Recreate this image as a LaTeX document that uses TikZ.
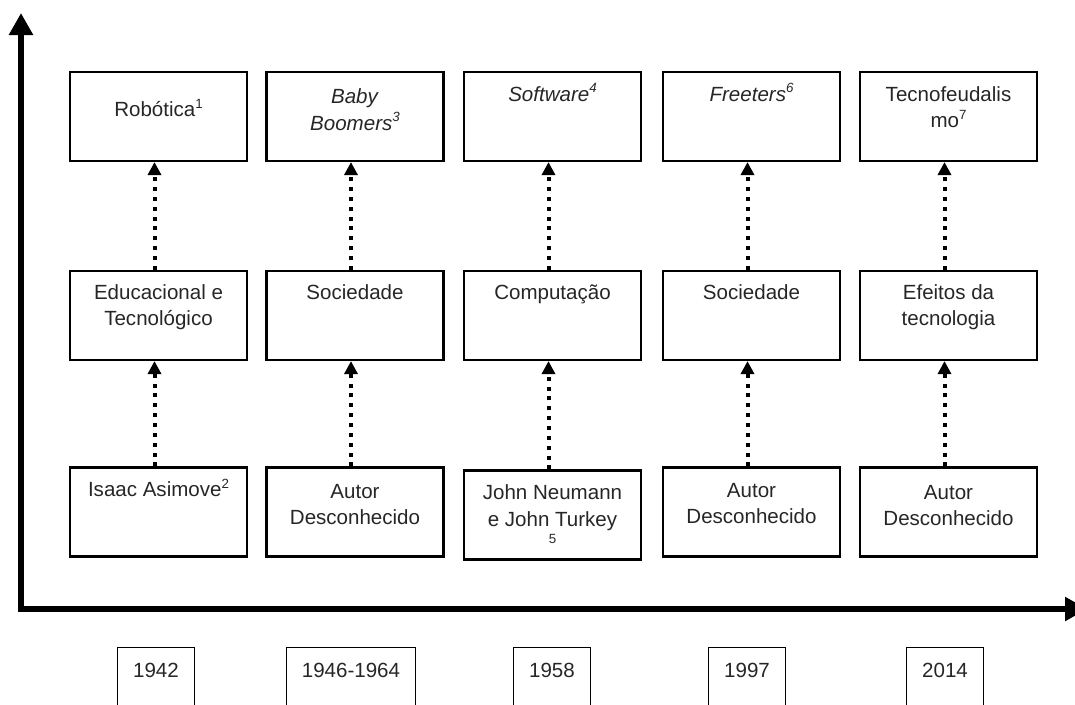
\documentclass[tikz,border=0pt]{standalone}
\usepackage{fontspec}
\setmainfont{Liberation Sans}
\usetikzlibrary{arrows.meta,calc}
% small raised footnote marks
\newcommand\supnum[1]{\raisebox{0.42em}{\fontsize{10}{10}\selectfont #1}}

\begin{document}
\begin{tikzpicture}[x=0.75pt,y=-0.75pt,
  box/.style={draw=black, line width=1.6pt, minimum width=132.75pt,
    minimum height=66.75pt, inner sep=0pt},
  boxtext/.style={anchor=north, inner sep=0pt, align=center, text=black!85,
    font=\fontsize{15.4}{20}\selectfont},
  yearbox/.style={draw=black, line width=0.9pt, anchor=north, inner sep=0pt,
    minimum width=57.75pt, text height=22.5pt, text depth=45pt, text=black!85,
    font=\fontsize{15.4}{20}\selectfont},
  link/.style={line width=3pt, dash pattern=on 3pt off 4.4pt,
    -{Triangle[length=9.75pt,width=9.75pt]}},
  axis/.style={line width=4.9pt, line join=miter,
    {Triangle[length=16.5pt,width=17.25pt]}-{Triangle[length=16.5pt,width=17.25pt]}}
]
\path[use as bounding box] (0,0) rectangle (1075,704);
\clip (0,0) rectangle (1075,704);

% axes
\coordinate (ytip) at (21,13);
\coordinate (origin) at (21,609);
\coordinate (xtip) at (1087,609);
\draw[axis] (ytip) -- (origin) -- (xtip);

% top row: concepts
\node[box] (t1) at (158.5,116.5) {};
\node[box] (t2) at (355,116.5) {};
\node[box] (t3) at (552.5,116.5) {};
\node[box] (t4) at (751.5,116.5) {};
\node[box] (t5) at (948.5,116.5) {};
\node[boxtext] (t1x) at (158.5,97.8) {\strut Robótica\supnum{1}};
\node[boxtext] (t2x) at (355,84.8) {\strut\textit{Baby}\\\textit{Boomers}\supnum{\textit{3}}};
\node[boxtext] (t3x) at (552.5,82.3) {\strut\textit{Software}\supnum{\textit{4}}};
\node[boxtext] (t4x) at (751.5,82.3) {\strut\textit{Freeters}\supnum{\textit{6}}};
\node[boxtext] (t5x) at (948.5,82.3) {\strut Tecnofeudalis\\mo\supnum{7}};

% middle row: areas
\node[box] (m1) at (158.5,315.5) {};
\node[box] (m2) at (355,315.5) {};
\node[box] (m3) at (552.5,315.5) {};
\node[box] (m4) at (751.5,315.5) {};
\node[box] (m5) at (948.5,315.5) {};
\node[boxtext] (m1x) at (158.5,280.3) {\strut Educacional e\\Tecnológico};
\node[boxtext] (m2x) at (355,280.3) {\strut Sociedade};
\node[boxtext] (m3x) at (552.5,280.3) {\strut Computação};
\node[boxtext] (m4x) at (751.5,280.3) {\strut Sociedade};
\node[boxtext] (m5x) at (948.5,280.3) {\strut Efeitos da\\tecnologia};

% bottom row: authors
\node[box] (b1) at (158.5,512) {};
\node[box] (b2) at (355,512) {};
\node[box] (b3) at (552.5,515) {};
\node[box] (b4) at (751.5,512) {};
\node[box] (b5) at (948.5,512) {};
\node[boxtext] (b1x) at (158.5,477.8) {\strut Isaac Asimove\supnum{2}};
\node[boxtext] (b2x) at (355,479.3) {\strut Autor\\Desconhecido};
\node[boxtext] (b3x) at (552.5,480.8) {\strut John Neumann\\e John Turkey\\[-7pt]{\fontsize{10}{10}\selectfont 5}};
\node[boxtext] (b4x) at (751.5,478.3) {\strut Autor\\Desconhecido};
\node[boxtext] (b5x) at (948.5,480.3) {\strut Autor\\Desconhecido};

% dotted links
\foreach \i in {1,...,5}{
  \draw[link] ([xshift=-3pt]b\i.north) -- ([xshift=-3pt]m\i.south);
  \draw[link] ([xshift=-3pt]m\i.north) -- ([xshift=-3pt]t\i.south);
}

% years under the time axis
\node[yearbox] (y1) at (156,647) {1942};
\node[yearbox, minimum width=96.75pt] (y2) at (351,647) {1946-1964};
\node[yearbox] (y3) at (552,647) {1958};
\node[yearbox] (y4) at (747,647) {1997};
\node[yearbox] (y5) at (945,647) {2014};
\end{tikzpicture}
\end{document}
